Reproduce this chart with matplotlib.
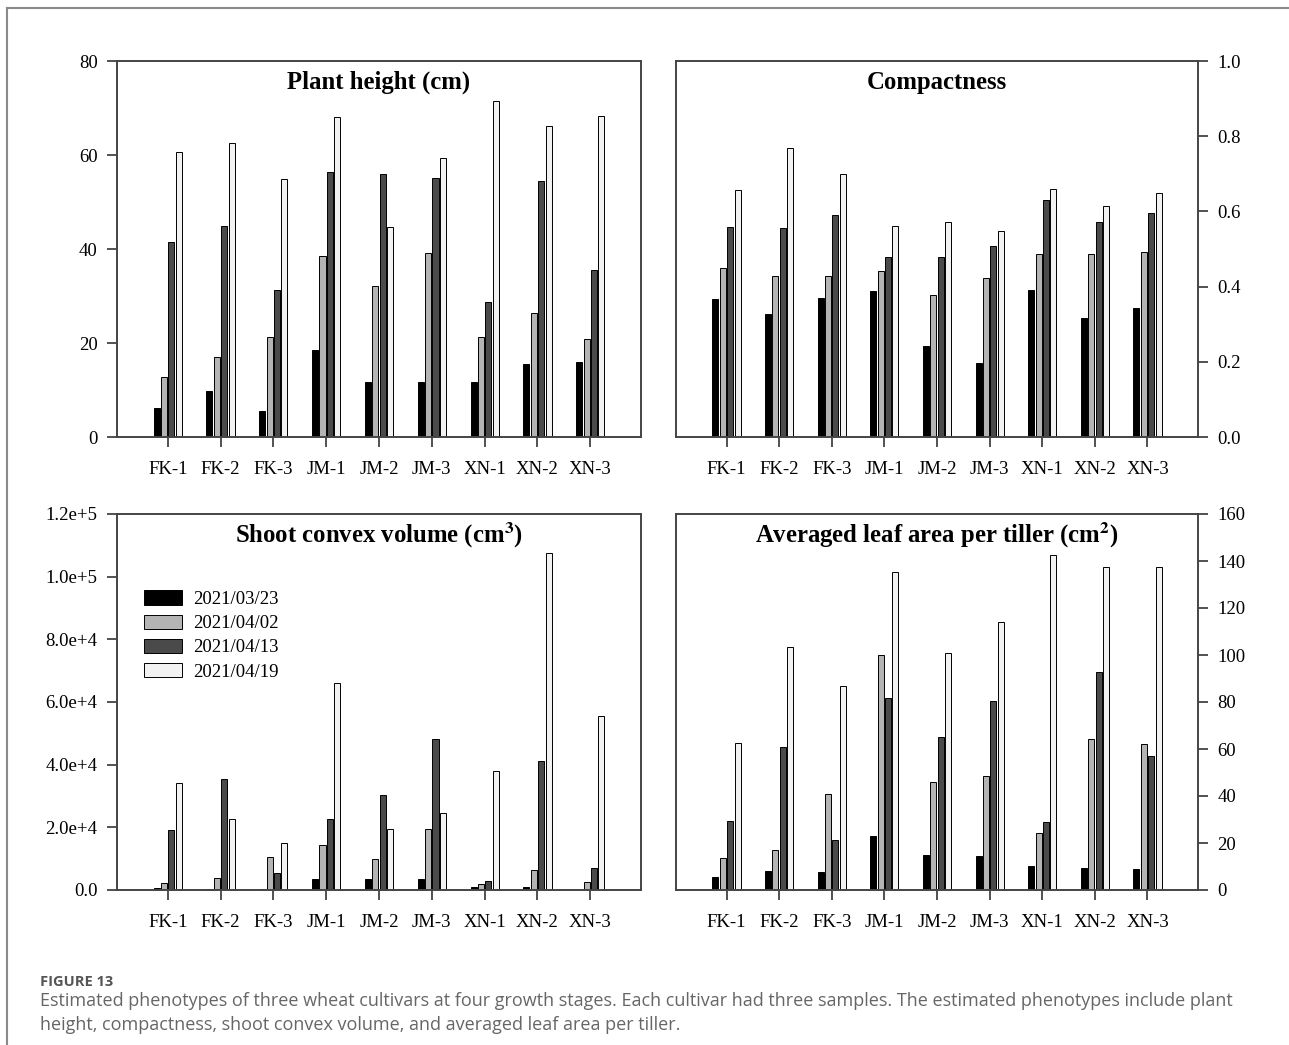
import matplotlib.pyplot as plt
import numpy as np
from matplotlib.lines import Line2D

plt.rcParams['font.family'] = 'Liberation Serif'
plt.rcParams['mathtext.fontset'] = 'stix'

samples = ['FK-1', 'FK-2', 'FK-3', 'JM-1', 'JM-2', 'JM-3', 'XN-1', 'XN-2', 'XN-3']
dates = ['2021/03/23', '2021/04/02', '2021/04/13', '2021/04/19']

# plant height (cm), one list per date
height_0323 = [6.1, 9.8, 5.5, 18.5, 11.8, 11.8, 11.7, 15.6, 16.0]
height_0402 = [12.7, 17.0, 21.3, 38.5, 32.1, 39.1, 21.2, 26.4, 20.9]
height_0413 = [41.4, 45.0, 31.2, 56.3, 55.9, 55.1, 28.8, 54.4, 35.6]
height_0419 = [60.7, 62.6, 54.9, 68.0, 44.7, 59.4, 71.5, 66.2, 68.2]

compact_0323 = [0.367, 0.327, 0.371, 0.388, 0.241, 0.196, 0.392, 0.316, 0.342]
compact_0402 = [0.450, 0.427, 0.427, 0.441, 0.377, 0.422, 0.486, 0.488, 0.492]
compact_0413 = [0.558, 0.557, 0.590, 0.480, 0.480, 0.508, 0.629, 0.573, 0.595]
compact_0419 = [0.658, 0.768, 0.699, 0.562, 0.573, 0.549, 0.660, 0.615, 0.650]

volume_0323 = [500, 300, 300, 3400, 3400, 3500, 1100, 1100, 100]
volume_0402 = [2100, 3800, 10500, 14300, 10000, 19600, 1900, 6300, 2400]
volume_0413 = [19000, 35400, 5300, 22600, 30400, 48200, 2800, 41300, 7100]
volume_0419 = [34300, 22600, 15000, 66000, 19500, 24700, 37900, 107500, 55400]

leaf_0323 = [5.5, 8.1, 7.8, 23.1, 14.8, 14.5, 10.2, 9.5, 9.1]
leaf_0402 = [13.6, 17.0, 40.7, 99.8, 46.0, 48.7, 24.4, 64.2, 62.0]
leaf_0413 = [29.4, 61.0, 21.2, 81.5, 65.3, 80.4, 29.0, 92.6, 56.9]
leaf_0419 = [62.6, 103.5, 86.6, 135.2, 100.9, 114.0, 142.4, 137.4, 137.4]

colors = ['#000000', '#b4b4b4', '#4a4a4a', '#f2f2f2']

fig = plt.figure(figsize=(12.89, 10.45), dpi=100)

W, H = 1289, 1045


def box(x0, y0, x1, y1):
    return [x0 / W, 1 - y1 / H, (x1 - x0) / W, (y1 - y0) / H]


panels = [
    (box(117, 61, 641, 437), 'Plant height (cm)',
     [height_0323, height_0402, height_0413, height_0419], 'left',
     (0, 80), np.arange(0, 81, 20), [str(v) for v in range(0, 81, 20)]),
    (box(676, 61, 1198, 437), 'Compactness',
     [compact_0323, compact_0402, compact_0413, compact_0419], 'right',
     (0, 1.0), np.arange(0, 1.01, 0.2), ['%.1f' % v for v in np.arange(0, 1.01, 0.2)]),
    (box(117, 514, 641, 890), r'Shoot convex volume (cm$^{\mathbf{3}}$)',
     [volume_0323, volume_0402, volume_0413, volume_0419], 'left',
     (0, 120000), np.arange(0, 120001, 20000),
     ['0.0', '2.0e+4', '4.0e+4', '6.0e+4', '8.0e+4', '1.0e+5', '1.2e+5']),
    (box(676, 514, 1198, 890), r'Averaged leaf area per tiller (cm$^{\mathbf{2}}$)',
     [leaf_0323, leaf_0402, leaf_0413, leaf_0419], 'right',
     (0, 160), np.arange(0, 161, 20), [str(v) for v in range(0, 161, 20)]),
]

x = np.arange(1, len(samples) + 1)
slot = 0.14
bw = 0.115

axes = []
for rect, title, series, side, ylim, yt, ytl in panels:
    ax = fig.add_axes(rect)
    for i, vals in enumerate(series):
        ax.bar(x + (i - 1.5) * slot, vals, width=bw, color=colors[i],
               edgecolor='black', linewidth=0.7, label=dates[i])
    ax.set_xlim(0.04, 9.96)
    ax.set_ylim(*ylim)
    ax.set_xticks(x)
    ax.set_xticklabels(samples, fontsize=13.5)
    ax.set_yticks(yt)
    ax.set_yticklabels(ytl, fontsize=13.5)
    if side == 'right':
        ax.yaxis.tick_right()
    ax.tick_params(axis='both', direction='out', length=7, width=1.2,
                   color='#333333', pad=7)
    ax.tick_params(axis='x', pad=10)
    for sp in ax.spines.values():
        sp.set_color('#444444')
        sp.set_linewidth(1.4)
    ax.text(0.5, 0.944, title, transform=ax.transAxes, ha='center',
            va='center', fontsize=17.8, fontweight='bold')
    axes.append(ax)

axes[2].legend(loc='upper left', bbox_to_anchor=(0.02, 0.842), frameon=False,
               fontsize=13.5, handlelength=2.0, handleheight=0.8,
               labelspacing=0.35, handletextpad=0.6)

# figure frame (left and top only, the rest is cropped)
fig.add_artist(Line2D([7 / W, 7 / W], [0, 1 - 8 / H], color='#8a8a8a', lw=1.5))
fig.add_artist(Line2D([7 / W, 1], [1 - 8 / H, 1 - 8 / H], color='#8a8a8a', lw=1.5))

fig.text(40 / W, 1 - 982 / H, 'FIGURE 13', fontsize=10.5, fontweight='bold',
         color='#555555', family='Open Sans', va='center')
fig.text(40 / W, 1 - 1001 / H,
         'Estimated phenotypes of three wheat cultivars at four growth stages. '
         'Each cultivar had three samples. The estimated phenotypes include plant',
         fontsize=13.0, color='#666666', family='Open Sans', va='center')
fig.text(40 / W, 1 - 1025 / H,
         'height, compactness, shoot convex volume, and averaged leaf area per tiller.',
         fontsize=13.0, color='#666666', family='Open Sans', va='center')

fig.savefig('out.png', dpi=100)
